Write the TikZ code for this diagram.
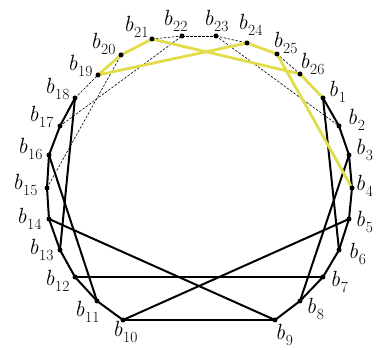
\documentclass[tikz,border=0pt]{standalone}
\usetikzlibrary{positioning, backgrounds}
\definecolor{chordyellow}{HTML}{E3DC4A}
\newcommand{\bname}[1]{\textit{b}\kern0.8pt\raisebox{-0.28em}{\fontsize{15.5}{15.5}\selectfont #1}}

\begin{document}
\begin{tikzpicture}[x=1pt, y=-1pt,
    pt/.style={circle, fill=black, inner sep=0pt, minimum size=5pt},
    lbl/.style={font=\fontsize{22}{24}\selectfont, inner sep=0pt},
    blk/.style={line width=2pt, black},
    ylw/.style={line width=2.8pt, chordyellow},
    dsh/.style={line width=0.6pt, dash pattern=on 2.5pt off 1.5pt},
]
    \useasboundingbox (0,0) rectangle (376,350);

    % Points on the ring
    \foreach \i/\x/\y in {1/323/98, 2/339/126, 3/349/155, 4/352/188, 5/349/219,
        6/339/250, 7/323/277, 8/300/301, 9/275/320, 10/123/320, 11/97/301,
        12/75/277, 13/60/250, 14/49/219, 15/47/188, 16/49/155, 17/60/126,
        18/75/98, 19/98/75, 20/121/55, 21/152/39, 22/182/36, 23/216/36,
        24/247/43, 25/277/54, 26/300/74}
        \node[pt] (b\i) at (\x,\y) {};

    % Labels
    \foreach \i/\x/\y in {1/337/92, 2/356/120, 3/364/150, 4/364/186, 5/364/222,
        6/357/254, 7/339/282, 8/315/309, 9/284/335, 10/125/332, 11/87/312,
        12/57/281, 13/41/250, 14/29/219, 15/25/185, 16/30/149, 17/41/117,
        18/57/89, 19/80/66, 20/103/44, 21/136/27, 22/175/21, 23/216/21,
        24/250/25, 25/285/43, 26/312/64}
        \node[lbl] (l\i) at (\x,\y) {\bname{\i}};

    \begin{pgfonlayer}{background}
    % Dashed edges
    \foreach \a/\b in {18/19, 15/20, 17/22, 21/22, 22/23, 23/24, 23/2, 25/26}
        \draw[dsh] (b\a.center) -- (b\b.center);

    % Black edges
    \foreach \a/\b in {1/2, 2/3, 3/4, 4/5, 5/6, 6/7, 7/8, 8/9, 9/10, 10/11,
        11/12, 12/13, 13/14, 14/15, 15/16, 16/17, 17/18,
        1/6, 3/8, 5/10, 7/12, 9/14, 11/16, 13/18}
        \draw[blk] (b\a.center) -- (b\b.center);

    % Yellow edges
    \foreach \a/\b in {19/20, 20/21, 21/26, 26/1, 19/24, 24/25, 25/4}
        \draw[ylw] (b\a.center) -- (b\b.center);
    \end{pgfonlayer}
\end{tikzpicture}
\end{document}
